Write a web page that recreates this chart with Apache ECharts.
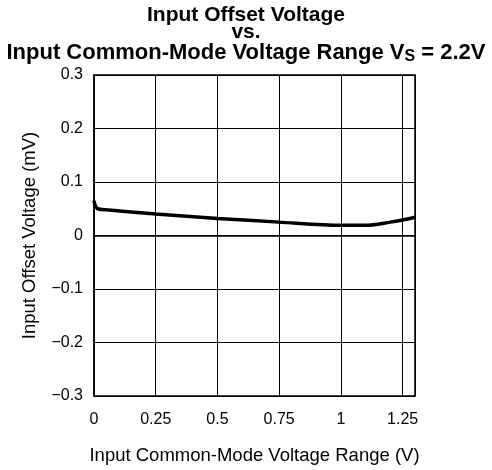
<!DOCTYPE html>
<html><head><meta charset="utf-8">
<script src="https://cdn.jsdelivr.net/npm/echarts@6/dist/echarts.min.js"></script>
<style>html,body{margin:0;padding:0;background:#fff}#c{width:492px;height:470px}</style>
</head><body><div id="c"></div>
<script>
const xValues = [0, 0.005, 0.015, 0.05, 0.25, 0.5, 0.75, 1.0, 1.1, 1.2, 1.25, 1.3];
const yValues = [0.065, 0.056, 0.05, 0.048, 0.040, 0.032, 0.025, 0.019, 0.019, 0.025, 0.029, 0.034];
const xTicks = [0, 0.25, 0.5, 0.75, 1, 1.25];
const yTicks = [-0.3, -0.2, -0.1, 0, 0.1, 0.2, 0.3];

const chart = echarts.init(document.getElementById('c'));
const tf = 'Liberation Sans, Arial, sans-serif';
const af = 'Liberation Sans, Arial, sans-serif';
chart.setOption({
  animation: false,
  title: [
    {text: 'Input Offset Voltage', left: 'center', top: 5, padding: 0, textStyle: {fontFamily: tf, fontSize: 21, fontWeight: 'bold', color: '#000'}},
    {text: 'vs.', left: 'center', top: 22, padding: 0, textStyle: {fontFamily: tf, fontSize: 21, fontWeight: 'bold', color: '#000'}},
    {text: '{a|Input Common-Mode Voltage Range V}{b|S}{a| = 2.2V}', left: 'center', top: 41, padding: 0,
     textStyle: {rich: {
       a: {fontFamily: tf, fontSize: 22, fontWeight: 'bold', color: '#000'},
       b: {fontFamily: tf, fontSize: 16, fontWeight: 'bold', color: '#000', verticalAlign: 'bottom', padding: [8,0,0,0]}
     }}}
  ],
  grid: {left: 94, right: 77, top: 75, bottom: 73, show: true, borderColor: '#000', borderWidth: 1.5},
  xAxis: {
    type: 'value', min: 0, max: 1.3, interval: 0.25,
    name: 'Input Common-Mode Voltage Range (V)', nameLocation: 'middle', nameGap: 50,
    nameTextStyle: {fontFamily: af, fontSize: 18.5, color: '#000'},
    axisLine: {show: true, lineStyle: {color: '#000', width: 1.5}},
    axisTick: {show: false},
    splitLine: {show: true, lineStyle: {color: '#000', width: 1}},
    axisLabel: {fontFamily: af, fontSize: 16, color: '#000', margin: 16, showMaxLabel: false,
      formatter: v => xTicks.some(t => Math.abs(t - v) < 1e-9) ? String(+v.toFixed(2)) : ''}
  },
  yAxis: {
    type: 'value', min: -0.3, max: 0.3, interval: 0.1,
    name: 'Input Offset Voltage (mV)', nameLocation: 'middle', nameGap: 55,
    nameTextStyle: {fontFamily: af, fontSize: 18.5, color: '#000'},
    axisLine: {show: true, lineStyle: {color: '#000', width: 1.5}},
    axisTick: {show: false},
    splitLine: {show: true, lineStyle: {color: '#000', width: 1}},
    axisLabel: {fontFamily: af, fontSize: 16, color: '#000', margin: 11,
      formatter: v => {const r = Math.round(v * 10) / 10; return r === 0 ? '0' : (r < 0 ? '\u2212' + Math.abs(r) : String(r));}}
  },
  series: [{
    type: 'line', showSymbol: false, smooth: 0.3,
    data: xValues.map((x, i) => [x, yValues[i]]),
    lineStyle: {color: '#000', width: 3.5}
  }]
});
</script></body></html>
